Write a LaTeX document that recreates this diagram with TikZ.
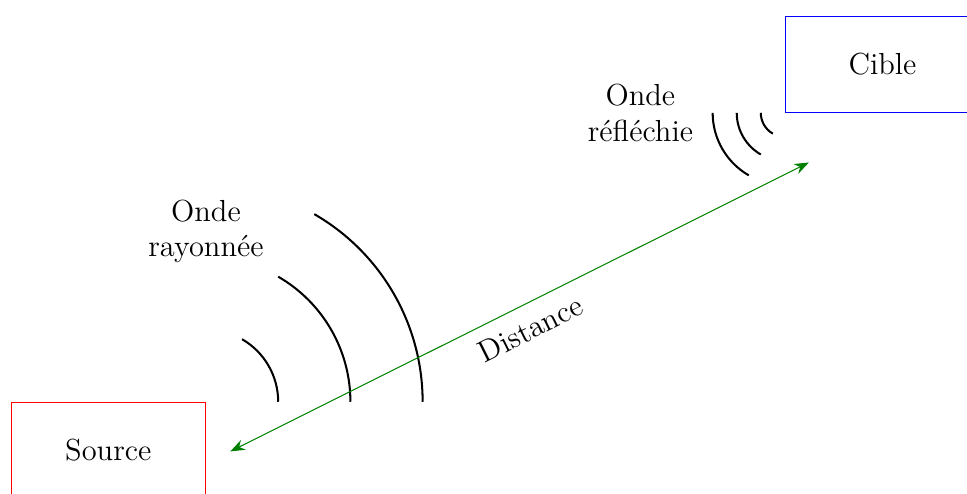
\documentclass[tikz,border=0pt]{standalone}
\usepackage{tikz}
\usetikzlibrary{positioning,arrows.meta,calc}

\begin{document}
\begin{tikzpicture}[>={Stealth[length=2mm]},font=\large]
\useasboundingbox (0,0) rectangle (13.39,6.83);
\node[draw=red,minimum width=2.69cm,minimum height=1.33cm] (source) at (1.5,0.595) {Source};
\node[draw=blue,minimum width=2.69cm,minimum height=1.33cm] (cible) at (12.22,5.94) {Cible};
% onde rayonnee
\foreach \r in {1,2,3}
  \draw[thick] ($(source.north east)+(\r,0)$) arc (0:60:\r);
\node[align=center] (ray) at ($(source.north east)+(0,2.36)$) {Onde\\rayonnée};
% onde reflechie
\foreach \r in {1,2,3}
  \draw[thick] ($(cible.south west)+(-\r/3,0)$) arc (180:240:\r/3);
\node[align=center] (refl) at ($(cible.south west)+(-2,0)$) {Onde\\réfléchie};
% distance
\coordinate (d1) at (3.19,0.58);
\coordinate (d2) at (11.2,4.58);
\draw[<->,green!50!black] (d1) -- (d2) node[midway,sloped,below=2pt,text=black] {Distance};
\end{tikzpicture}
\end{document}
